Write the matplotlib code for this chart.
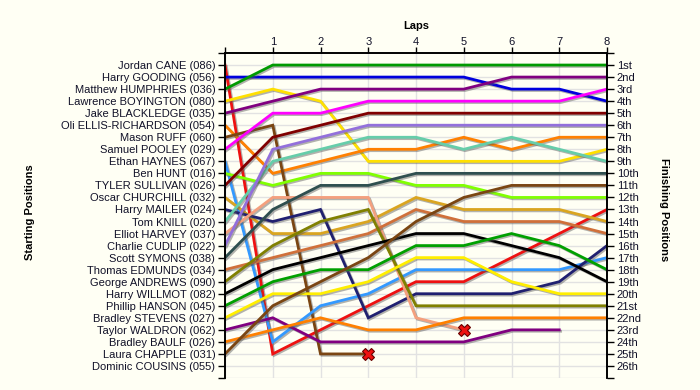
import matplotlib
matplotlib.use("Agg")
import matplotlib.pyplot as plt
import matplotlib.patheffects as pe

drivers = ["Jordan CANE (086)", "Harry GOODING (056)", "Matthew HUMPHRIES (036)",
           "Lawrence BOYINGTON (080)", "Jake BLACKLEDGE (035)", "Oli ELLIS-RICHARDSON (054)",
           "Mason RUFF (060)", "Samuel POOLEY (029)", "Ethan HAYNES (067)", "Ben HUNT (016)",
           "TYLER SULLIVAN (026)", "Oscar CHURCHILL (032)", "Harry MAILER (024)",
           "Tom KNILL (020)", "Elliot HARVEY (037)", "Charlie CUDLIP (022)",
           "Scott SYMONS (038)", "Thomas EDMUNDS (034)", "George ANDREWS (090)",
           "Harry WILLMOT (082)", "Phillip HANSON (045)", "Bradley STEVENS (027)",
           "Taylor WALDRON (062)", "Bradley BAULF (026)", "Laura CHAPPLE (031)",
           "Dominic COUSINS (055)"]

finish_labels = ["1st", "2nd", "3rd", "4th", "5th", "6th", "7th", "8th", "9th", "10th",
                 "11th", "12th", "13th", "14th", "15th", "16th", "17th", "18th", "19th",
                 "20th", "21st", "22nd", "23rd", "24th", "25th", "26th"]

laps = [0, 1, 2, 3, 4, 5, 6, 7, 8]

# positions per lap (lap 0 = start)
pos_cane       = [1, 25, 23, 21, 19, 19, 17, 15, 13]
pos_gooding    = [2, 2, 2, 2, 2, 2, 3, 3, 4]
pos_humphries  = [3, 1, 1, 1, 1, 1, 1, 1, 1]
pos_boyington  = [4, 3, 4, 9, 9, 9, 9, 9, 8]
pos_blackledge = [5, 4, 3, 3, 3, 3, 2, 2, 2]
pos_ellis      = [6, 10, 9, 8, 8, 7, 8, 7, 7]
pos_ruff       = [7, 6, 25, 25]
pos_pooley     = [8, 5, 5, 4, 4, 4, 4, 4, 3]
pos_haynes     = [9, 24, 21, 20, 18, 18, 18, 18, 17]
pos_hunt       = [10, 11, 10, 10, 11, 11, 12, 12, 12]
pos_sullivan   = [11, 7, 6, 5, 5, 5, 5, 5, 5]
pos_churchill  = [12, 15, 15, 14, 12, 13, 13, 13, 14]
pos_mailer     = [13, 14, 13, 22, 20, 20, 20, 19, 16]
pos_knill      = [14, 9, 8, 7, 7, 8, 7, 8, 9]
pos_harvey     = [15, 12, 12, 12, 22, 23]
pos_cudlip     = [16, 8, 7, 6, 6, 6, 6, 6, 6]
pos_symons     = [17, 13, 11, 11, 10, 10, 10, 10, 10]
pos_edmunds    = [18, 17, 16, 15, 13, 14, 14, 14, 15]
pos_andrews    = [19, 16, 14, 13, 21, 21, 21, 21, 21]
pos_willmot    = [20, 18, 17, 16, 15, 15, 16, 17, 19]
pos_hanson     = [21, 19, 18, 18, 16, 16, 15, 16, 18]
pos_stevens    = [22, 20, 20, 19, 17, 17, 19, 20, 20]
pos_waldron    = [23, 22, 24, 24, 24, 24, 23, 23]
pos_baulf      = [24, 23, 22, 23, 23, 22, 22, 22, 22]
pos_chapple    = [25, 21, 19, 17, 14, 12, 11, 11, 11]

series = [pos_cane, pos_gooding, pos_humphries, pos_boyington, pos_blackledge, pos_ellis,
          pos_ruff, pos_pooley, pos_haynes, pos_hunt, pos_sullivan, pos_churchill,
          pos_mailer, pos_knill, pos_harvey, pos_cudlip, pos_symons, pos_edmunds,
          pos_andrews, pos_willmot, pos_hanson, pos_stevens, pos_waldron, pos_baulf,
          pos_chapple]
retired = [False, False, False, False, False, False, True, False, False, False, False,
           False, False, False, True, False, False, False, False, False, False, False,
           False, False, False]

colors = ["#ee1111", "#0000dd", "#009a00", "#ffe000", "#800080", "#ff8000",
          "#7a4512", "#ff00ff", "#3399ff", "#80ff00", "#800000", "#daa520",
          "#202070", "#66cdaa", "#f4a07e", "#9370db", "#2f4f4f", "#d0703a",
          "#808000", "#000000", "#00a000", "#ffee00", "#800080", "#ff8000",
          "#7a4512"]

bg = "#fffff4"
fig = plt.figure(figsize=(7, 3.9), dpi=100, facecolor=bg)
ax = fig.add_axes([225/700, 1 - 378/390, (607 - 225)/700, (378 - 53)/390])
ax.set_facecolor(bg)

ax.set_xlim(0, 8)
ax.set_ylim(27, 0)

for x in laps:
    ax.axvline(x, color="#e2e2e2", lw=1, zorder=0)
for y in range(1, 28):
    ax.axhline(y, color="#e2e2e2", lw=1, zorder=0)

shadow = [pe.SimpleLineShadow(offset=(1, -1), shadow_color="#555555", alpha=0.45),
          pe.Normal()]
for s, c, r in zip(series, colors, retired):
    ax.plot(laps[:len(s)], s, color=c, lw=2, solid_joinstyle="miter",
            path_effects=shadow, zorder=2)
    if r:
        ax.plot(laps[len(s) - 1], s[-1], marker="X", ms=9, color="#ee1111",
                mec="#660000", mew=0.8, zorder=4, clip_on=False)

font = "Liberation Sans"
txtc = "#111128"
ax.xaxis.tick_top()
ax.set_xticks(laps)
ax.set_xticklabels([""] + [str(l) for l in laps[1:]], fontsize=8, family=font, color=txtc)
ax.xaxis.set_label_position("top")
ax.set_xlabel("Laps", fontsize=8, fontweight="bold", family=font, labelpad=6)

ax.set_yticks(range(0, 28))
ax.set_yticklabels([""] + drivers + [""], fontsize=8, family=font, color=txtc)

ax2 = ax.twinx()
ax2.set_ylim(27, 0)
ax2.set_yticks(range(0, 28))
ax2.set_yticklabels([""] + finish_labels + [""], fontsize=8, family=font, color=txtc)

for a in (ax, ax2):
    a.spines["bottom"].set_visible(False)
    a.spines["top"].set_linewidth(1.2)
    a.spines["left"].set_linewidth(1.2)
    a.spines["right"].set_linewidth(1.2)
    a.tick_params(axis="both", length=5, width=1, pad=2)
ax.tick_params(axis="x", length=4, pad=0)

fig.text(30/700, 1 - 212/390, "Starting Positions", rotation=90, ha="center", va="center",
         fontsize=8, fontweight="bold", family=font)
fig.text(664/700, 1 - 210/390, "Finishing Positions", rotation=270, ha="center", va="center",
         fontsize=8, fontweight="bold", family=font)

fig.savefig("out.png", dpi=100, facecolor=bg)
